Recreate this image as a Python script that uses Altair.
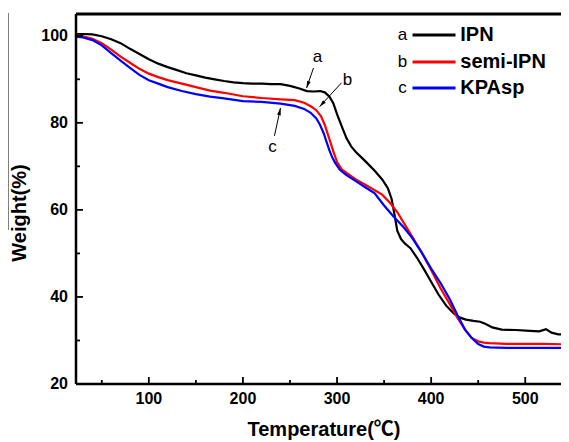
import math
import altair as alt
import pandas as pd

# ---------------- data ----------------
ipn_t = [22, 30, 40, 50, 60, 70, 80, 90, 100, 110, 120, 130, 140, 150, 160, 170, 180, 190, 200, 210,
         220, 230, 240, 250, 260, 268, 275, 282, 287, 292, 296, 300, 305, 310, 315, 320, 330, 340, 348,
         354, 358, 361, 364, 368, 372, 378, 385, 392, 400, 408, 416, 424, 430, 437, 445, 452, 458, 465,
         475, 490, 505, 515, 522, 528, 535, 546]
ipn_w = [100.4, 100.4, 100.3, 99.9, 99.2, 98.3, 97.0, 95.8, 94.6, 93.6, 92.8, 92.1, 91.4, 90.9, 90.4,
         90.0, 89.6, 89.3, 89.1, 89.0, 89.0, 88.9, 88.9, 88.5, 87.9, 87.3, 87.2, 87.3, 87.0, 86.0, 84.5,
         82.0, 79.2, 76.5, 74.6, 73.3, 71.2, 69.0, 67.0, 65.0, 62.5, 59.0, 55.2, 53.3, 52.3, 51.2, 49.0,
         46.5, 43.5, 40.5, 38.0, 36.2, 35.3, 34.8, 34.5, 34.3, 33.8, 33.0, 32.5, 32.4, 32.2, 32.1, 32.6,
         31.8, 31.4, 31.4]

semi_t = [22, 30, 40, 50, 60, 70, 80, 90, 100, 110, 120, 135, 150, 165, 180, 200, 220, 240, 255, 265,
          272, 278, 283, 287, 290, 293, 296, 300, 305, 312, 320, 330, 340, 348, 356, 364, 372, 380, 390,
          400, 410, 420, 428, 436, 443, 450, 456, 462, 480, 500, 520, 546]
semi_w = [100.2, 99.9, 99.3, 98.3, 96.8, 95.2, 93.8, 92.4, 91.3, 90.5, 89.8, 89.0, 88.2, 87.4, 86.9,
          86.1, 85.7, 85.4, 85.2, 84.6, 83.8, 82.9, 81.5, 79.5, 77.5, 75.5, 73.5, 71.0, 69.3, 68.2, 67.0,
          65.8, 64.5, 63.5, 61.7, 59.5, 56.6, 53.8, 50.2, 46.2, 42.0, 38.3, 35.2, 32.5, 30.6, 29.8, 29.5,
          29.4, 29.2, 29.2, 29.2, 29.1]

kpa_t = [22, 30, 40, 50, 60, 70, 80, 90, 100, 110, 120, 135, 150, 165, 180, 200, 220, 240, 255, 265,
         272, 278, 282, 286, 289, 292, 295, 298, 303, 310, 320, 330, 340, 350, 360, 370, 380, 390, 400,
         410, 420, 428, 436, 443, 450, 456, 462, 480, 500, 520, 546]
kpa_w = [99.8, 99.6, 99.0, 97.8, 96.0, 94.3, 92.6, 91.0, 89.8, 89.0, 88.2, 87.3, 86.6, 86.0, 85.6,
         85.0, 84.8, 84.4, 83.9, 83.2, 82.3, 81.0, 79.5, 77.5, 75.5, 73.6, 72.0, 70.8, 69.2, 68.0, 66.6,
         65.2, 63.8, 61.0, 58.5, 56.2, 53.5, 50.2, 46.5, 43.2, 39.4, 35.8, 32.5, 30.6, 29.2, 28.6, 28.4,
         28.3, 28.3, 28.3, 28.3]

series_names = ["IPN", "semi-IPN", "KPAsp"]
series_letters = ["a", "b", "c"]
series_colors = ["#000000", "#ff0000", "#0000ff"]

x_title = "Temperature(℃)"
y_title = "Weight(%)"
x_ticks = [100, 200, 300, 400, 500]
x_minor = [50, 150, 250, 350, 450]
y_ticks = [20, 40, 60, 80, 100]
y_major_marks = [40, 60, 80, 100]
y_minor = [30, 50, 70, 90]

# legend (in data coordinates)
leg_letter_t = 369.6
leg_line_t = [380.2, 425.9]
leg_label_t = 431.0
leg_w = [100.2, 94.0, 88.0]

# annotations: label position, arrow start, arrow end
ann_text_t = [279.2, 311.1, 231.4]
ann_text_w = [95.2, 89.9, 74.5]
ann_from_t = [275.0, 304.8, 233.5]
ann_from_w = [92.6, 89.2, 77.0]
ann_to_t = [267.6, 281.4, 239.9]
ann_to_w = [88.0, 83.7, 83.4]

# ---------------- layout ----------------
W, H = 485, 370
X_DOM = [22.6, 538.0]
Y_DOM = [20, 105]
px_x = W / (X_DOM[1] - X_DOM[0])
px_y = H / (Y_DOM[1] - Y_DOM[0])

FONT = "Liberation Sans"
TITLE_FONT = "Liberation Sans, Noto Sans CJK SC, sans-serif"

xs = alt.Scale(domain=X_DOM, nice=False, zero=False)
ys = alt.Scale(domain=Y_DOM, nice=False, zero=False)


def X(f):
    return alt.X(f, type="quantitative", scale=xs, axis=None)


def Y(f):
    return alt.Y(f, type="quantitative", scale=ys, axis=None)


one = pd.DataFrame({"k": [0]})
layers = []

# curves
for t, w, c in [(ipn_t, ipn_w, series_colors[0]), (semi_t, semi_w, series_colors[1]),
                (kpa_t, kpa_w, series_colors[2])]:
    df = pd.DataFrame({"T": t, "W": w})
    layers.append(alt.Chart(df).mark_line(color=c, strokeWidth=2.2, clip=True).encode(
        x=X("T"), y=Y("W")))

# axis lines and frame
layers.append(alt.Chart(one).mark_rule(color="black", strokeWidth=2.5).encode(
    x=alt.value(0), y=alt.value(0), y2=alt.value(H)))
layers.append(alt.Chart(one).mark_rule(color="black", strokeWidth=2.5).encode(
    x=alt.value(0), x2=alt.value(W), y=alt.value(H)))
layers.append(alt.Chart(one).mark_rule(color="black", strokeWidth=3).encode(
    x=alt.value(0), x2=alt.value(W), y=alt.value(0)))
# stray thin line at the far left of the reference image
layers.append(alt.Chart(one).mark_rule(color="black", strokeWidth=1).encode(
    x=alt.value(-68), y=alt.value(-1), y2=alt.value(216)))

# inward ticks
for vals, L in [(x_ticks, 7), (x_minor, 4)]:
    d = pd.DataFrame({"T": vals})
    layers.append(alt.Chart(d).mark_rule(color="black", strokeWidth=1.8).encode(
        x=X("T"), y=alt.value(H), y2=alt.value(H - L)))
for vals, L in [(y_major_marks, 7), (y_minor, 4)]:
    d = pd.DataFrame({"W": vals})
    layers.append(alt.Chart(d).mark_rule(color="black", strokeWidth=1.8).encode(
        y=Y("W"), x=alt.value(0), x2=alt.value(L)))

# tick labels
layers.append(alt.Chart(pd.DataFrame({"T": x_ticks, "s": [str(v) for v in x_ticks]})).mark_text(
    font=FONT, fontSize=16, fontWeight="bold", align="center", baseline="middle", color="black").encode(
    x=X("T"), y=alt.value(H + 15), text="s:N"))
layers.append(alt.Chart(pd.DataFrame({"W": y_ticks, "s": [str(v) for v in y_ticks]})).mark_text(
    font=FONT, fontSize=16, fontWeight="bold", align="right", baseline="middle", color="black").encode(
    y=Y("W"), x=alt.value(-8), text="s:N"))

# axis titles
layers.append(alt.Chart(pd.DataFrame({"s": [x_title]})).mark_text(
    font=TITLE_FONT, fontSize=20, fontWeight="bold", align="center", baseline="middle",
    color="black").encode(x=alt.value(248), y=alt.value(H + 46), text="s:N"))
layers.append(alt.Chart(pd.DataFrame({"s": [y_title]})).mark_text(
    font=FONT, fontSize=20, fontWeight="bold", align="center", baseline="middle", color="black",
    angle=270).encode(x=alt.value(-56), y=alt.value(199), text="s:N"))

# legend
leg = pd.DataFrame({"letter": series_letters, "name": series_names, "color": series_colors,
                    "W": leg_w, "T0": [leg_line_t[0]] * 3, "T1": [leg_line_t[1]] * 3,
                    "TL": [leg_letter_t] * 3, "TN": [leg_label_t] * 3})
layers.append(alt.Chart(leg).mark_rule(strokeWidth=3).encode(
    x=X("T0"), x2="T1:Q", y=Y("W"), color=alt.Color("color:N", scale=None)))
layers.append(alt.Chart(leg).mark_text(font=FONT, fontSize=17, align="center", baseline="middle",
                                       color="black").encode(x=X("TL"), y=Y("W"), text="letter:N"))
layers.append(alt.Chart(leg).mark_text(font=FONT, fontSize=20, fontWeight="bold", align="left",
                                       baseline="middle", color="black").encode(
    x=X("TN"), y=Y("W"), text="name:N"))

# annotations
angles = []
for i in range(3):
    dx = (ann_to_t[i] - ann_from_t[i]) * px_x
    dy = -(ann_to_w[i] - ann_from_w[i]) * px_y
    angles.append(math.degrees(math.atan2(dx, -dy)) % 360)
ann = pd.DataFrame({"letter": series_letters, "tx": ann_text_t, "tw": ann_text_w,
                    "t0": ann_from_t, "w0": ann_from_w, "t1": ann_to_t, "w1": ann_to_w,
                    "ang": angles})
layers.append(alt.Chart(ann).mark_text(font=FONT, fontSize=17, align="center", baseline="middle",
                                       color="black").encode(x=X("tx"), y=Y("tw"), text="letter:N"))
layers.append(alt.Chart(ann).mark_rule(color="black", strokeWidth=1).encode(
    x=X("t0"), x2="t1:Q", y=Y("w0"), y2="w1:Q"))
layers.append(alt.Chart(ann).mark_point(shape="M0,0L-0.4,1.5L0.4,1.5Z", size=90, filled=True,
                                        color="black", opacity=1, strokeWidth=0).encode(
    x=X("t1"), y=Y("w1"), angle=alt.Angle("ang:Q", scale=None)))

chart = alt.layer(*layers).properties(
    width=W, height=H,
    padding={"left": 68, "top": 6, "right": 0, "bottom": 60},
    autosize=alt.AutoSizeParams(type="none"),
    background="white",
).configure_view(stroke="transparent")

chart.save("out.html", embed_options={"renderer": "svg", "actions": False})
